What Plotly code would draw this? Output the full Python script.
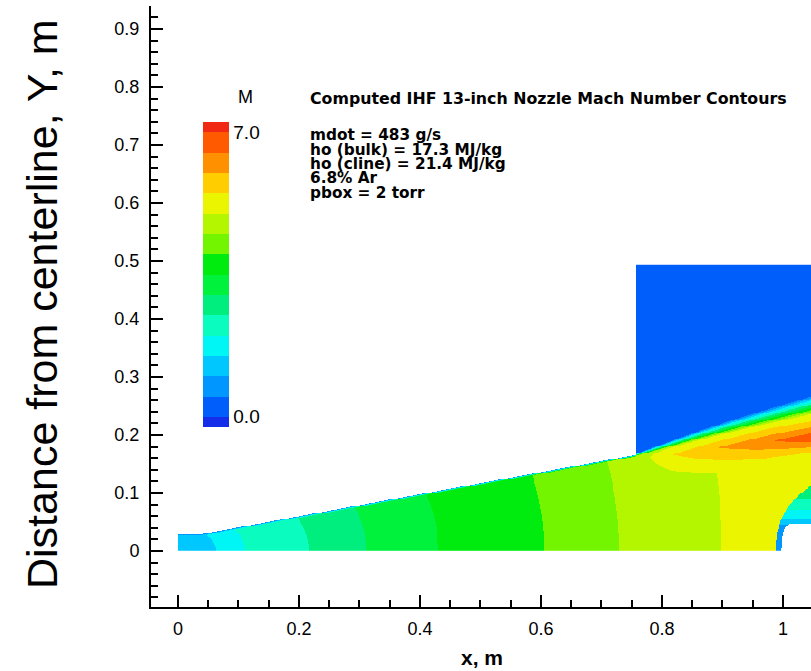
import numpy as np
import plotly.graph_objects as go

# ---------------- values ----------------
levels = [0.0, 0.5, 1.0, 1.5, 2.0, 2.5, 3.0, 3.5, 4.0, 4.5, 5.0, 5.5, 6.0, 6.5, 7.0]
band_colors = [
    "rgb(20,45,235)", "rgb(0,95,250)", "rgb(0,150,255)", "rgb(0,200,255)",
    "rgb(0,245,245)", "rgb(10,252,190)", "rgb(0,238,125)", "rgb(0,242,60)",
    "rgb(0,236,15)", "rgb(115,245,0)", "rgb(180,245,0)", "rgb(235,245,0)",
    "rgb(255,205,0)", "rgb(255,145,0)", "rgb(255,90,0)", "rgb(240,40,20)",
]

# nozzle wall contour
wall_x = [0.0, 0.04, 0.757]
wall_y = [0.029, 0.029, 0.1655]
box_x0 = 0.757
box_top = 0.4936
box_mach = 0.25

# Mach number along the centreline (level crossings)
cl_x = [0.0, 0.063, 0.111, 0.216, 0.311, 0.43, 0.605, 0.729, 0.899, 0.98, 1.05]
cl_m = [1.1, 1.5, 2.0, 2.5, 3.0, 3.5, 4.0, 4.5, 5.0, 5.35, 5.45]

# jet shear layer (centre and thickness)
shear_x = [0.757, 0.863, 0.914, 1.046]
shear_y = [0.1655, 0.200, 0.215, 0.250]
shear_t = [0.004, 0.016, 0.022, 0.035]

# expansion ridge inside the jet
ridge_x = [0.757, 0.78, 0.818, 0.891, 0.985, 1.046]
ridge_y = [0.160, 0.162, 0.166, 0.178, 0.190, 0.194]
ridge_m = [4.6, 5.0, 5.5, 6.0, 6.5, 6.9]
ridge_wlo = [0.02, 0.035, 0.04, 0.043, 0.032, 0.025]
ridge_wup = [0.01, 0.015, 0.017, 0.02, 0.025, 0.03]

# bow shock ahead of the model and post-shock Mach number
shock_y = [0.0, 0.03, 0.053, 0.075, 0.095, 0.115]
shock_x = [0.988, 0.990, 0.997, 1.008, 1.025, 1.05]
post_y = [0.0, 0.04, 0.06, 0.08, 0.10, 0.12]
post_m = [0.7, 0.8, 1.7, 2.3, 2.8, 3.2]

# model (blunt body) outline
body_y = [0.0, 0.03, 0.04, 0.047]
body_x = [0.998, 1.0, 1.004, 1.012]

x_ticks = [0, 0.2, 0.4, 0.6, 0.8, 1.0]
x_labels = ["0", "0.2", "0.4", "0.6", "0.8", "1"]
y_ticks = [0, 0.1, 0.2, 0.3, 0.4, 0.5, 0.6, 0.7, 0.8, 0.9]
y_labels = ["0", "0.1", "0.2", "0.3", "0.4", "0.5", "0.6", "0.7", "0.8", "0.9"]

info_title = "Computed IHF 13-inch Nozzle Mach Number Contours"
info_lines = ["mdot = 483 g/s", "ho (bulk) = 17.3 MJ/kg", "ho (cline) = 21.4 MJ/kg",
              "6.8% Ar", "pbox = 2 torr"]

# ---------------- build the Mach field ----------------
dx = 0.0015
xe = np.arange(0.0, 1.0505, dx)
ye = np.arange(0.0, box_top + 0.0008, dx)
xc = 0.5 * (xe[:-1] + xe[1:])
yc = 0.5 * (ye[:-1] + ye[1:])
X, Y = np.meshgrid(xc, yc)

wall = np.interp(X, wall_x, wall_y)
ys = np.interp(X, shear_x, shear_y)
outer = np.where(X < box_x0, wall, ys)
eta = np.clip(Y / outer, 0, 1)
core = np.interp(X + 0.02 * eta ** 2, cl_x, cl_m)

# nozzle with thin wall boundary layer
dwall = wall - Y
M_noz = np.where(dwall < 0.003, 0.5 + (core - 0.5) * np.clip(dwall, 0, None) / 0.003, core)

# jet + test box
yp = np.interp(X, ridge_x, ridge_y)
mp = np.interp(X, ridge_x, ridge_m)
wlo = np.interp(X, ridge_x, ridge_wlo)
wup = np.interp(X, ridge_x, ridge_wup)
d = Y - yp
f = np.where(d < 0, 1 + d / wlo, 1 - d / wup)
f = np.clip(f, 0, 1)
M_in = core + np.clip(mp - core, 0, None) * f
t = np.interp(X, shear_x, shear_t)
g = np.clip((ys - Y) / t + 0.5, 0, 1)
M_jet = box_mach + (M_in - box_mach) * g

xs = np.interp(Y, shock_y, shock_x)
M_post = np.interp(Y, post_y, post_m)
M_jet = np.where((X > xs) & (Y < shock_y[-1]), M_post, M_jet)

M = np.where(X < box_x0, M_noz, M_jet)
M = np.where((X < box_x0) & (Y > wall), np.nan, M)
M = np.where(Y > box_top, np.nan, M)
xb = np.interp(Y, body_y, body_x)
M = np.where((Y <= body_y[-1]) & (X >= xb), np.nan, M)
M = M.astype(np.float32)

# discrete colour scale: bands of 0.5 from -0.25 to 7.25
zmin, zmax = -0.25, 7.25
bounds = [zmin] + levels + [zmax]
colorscale = []
for i, c in enumerate(band_colors):
    a = (bounds[i] - zmin) / (zmax - zmin)
    b = (bounds[i + 1] - zmin) / (zmax - zmin)
    colorscale.append([a, c])
    colorscale.append([b, c])

# ---------------- layout geometry (pixels) ----------------
W, H = 811, 671
L, R, T, B = 151, 0, 6, 64
pw, ph = W - L - R, H - T - B


def px(x):
    return (x - L) / pw


def py(y):
    return (H - B - y) / ph


fig = go.Figure()
fig.add_trace(go.Heatmap(
    x=xe, y=ye, z=M, zmin=zmin, zmax=zmax, colorscale=colorscale,
    zsmooth=False, hoverinfo="skip",
    colorbar=dict(
        x=px(203), xanchor="left", y=py(274.5), yanchor="middle",
        lenmode="pixels", len=305, thicknessmode="pixels", thickness=26,
        xpad=0, ypad=0, outlinewidth=0, ticks="",
        tickvals=[levels[0], levels[-1]], ticktext=["0.0", "7.0"],
        tickfont=dict(family="Liberation Sans, Arial", size=19, color="black"),
    ),
))

annotations = [
    dict(text="M", x=px(236), y=py(97), xanchor="left", yanchor="middle",
         font=dict(family="Liberation Sans, Arial", size=18, color="black")),
    dict(text="<b>" + info_title + "</b>", x=px(308), y=py(99), xanchor="left", yanchor="middle",
         font=dict(family="DejaVu Sans", size=15.8, color="black")),
    dict(text="Distance from centerline, Y, m", x=px(42), y=py(304), textangle=-90,
         xanchor="center", yanchor="middle",
         font=dict(family="Liberation Sans, Arial", size=43, color="black")),
    dict(text="<b>x, m</b>", x=px(482), y=py(657), xanchor="center", yanchor="middle",
         font=dict(family="Liberation Sans, Arial", size=21, color="black")),
]
for i, line in enumerate(info_lines):
    annotations.append(dict(text="<b>" + line + "</b>", x=px(308), y=py(135 + 14.5 * i),
                            xanchor="left", yanchor="middle",
                            font=dict(family="DejaVu Sans", size=15.3, color="black")))
for a in annotations:
    a.update(xref="paper", yref="paper", showarrow=False)

axis_font = dict(family="Liberation Sans, Arial", size=18, color="black")
fig.update_layout(
    width=W, height=H, margin=dict(l=L, r=R, t=T, b=B),
    paper_bgcolor="white", plot_bgcolor="white",
    annotations=annotations,
    xaxis=dict(range=[-0.0446, 1.0463], showgrid=False, zeroline=False,
               showline=True, linewidth=2, linecolor="black",
               ticks="inside", ticklen=12, tickwidth=2, tickcolor="black",
               tickvals=x_ticks, ticktext=x_labels, tickfont=axis_font,
               ticklabelstandoff=4,
               minor=dict(ticks="inside", ticklen=7, tickwidth=1.5, tickcolor="black",
                          dtick=0.05, tick0=0)),
    yaxis=dict(range=[-0.0966, 0.9397], showgrid=False, zeroline=False,
               showline=True, linewidth=2, linecolor="black",
               ticks="inside", ticklen=12, tickwidth=2, tickcolor="black",
               tickvals=y_ticks, ticktext=y_labels, tickfont=axis_font,
               ticklabelstandoff=6,
               minor=dict(ticks="inside", ticklen=7, tickwidth=1.5, tickcolor="black",
                          dtick=0.02, tick0=0)),
)
fig.write_html("out.html")
